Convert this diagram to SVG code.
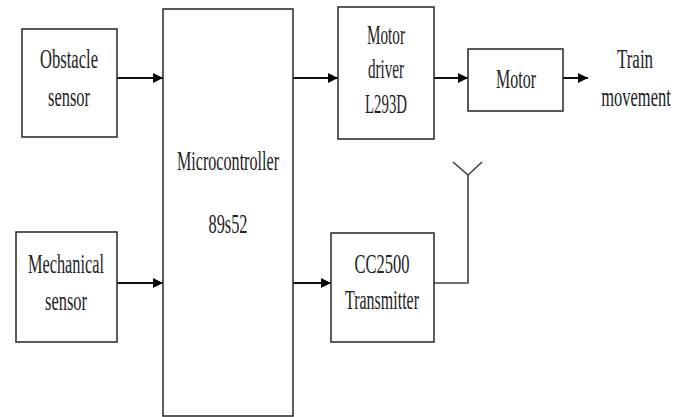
<svg xmlns="http://www.w3.org/2000/svg" width="685" height="417" viewBox="0 0 685 417">
<defs>
<marker id="arr" viewBox="0 0 10 10" refX="10" refY="5" markerWidth="10" markerHeight="10" markerUnits="userSpaceOnUse" orient="auto">
<path d="M0,0 L10,5 L0,10 Z" fill="#000"/>
</marker>
</defs>
<style>
.box{fill:#fff;stroke:#333;stroke-width:1.6}
.t{font-family:"Liberation Serif","Times New Roman",serif;font-size:27px;fill:#222;text-anchor:middle}
.c{fill:none;stroke:#111;stroke-width:2}
.ant{fill:none;stroke:#444;stroke-width:1.6}
</style>
<rect width="685" height="417" fill="#fff"/>
<g id="connectors">
<line class="c" x1="117" y1="78" x2="163" y2="78" marker-end="url(#arr)"/>
<line class="c" x1="117" y1="283" x2="163" y2="283" marker-end="url(#arr)"/>
<line class="c" x1="293" y1="78" x2="338" y2="78" marker-end="url(#arr)"/>
<line class="c" x1="293" y1="283" x2="331" y2="283" marker-end="url(#arr)"/>
<line class="c" x1="434" y1="78" x2="468" y2="78" marker-end="url(#arr)"/>
<line class="c" x1="563" y1="78" x2="588" y2="78" marker-end="url(#arr)"/>
<polyline class="ant" points="434,283 468,283 468,175"/>
<polyline class="ant" points="453,162 468,175 482,162"/>
</g>
<g id="obstacle">
<rect class="box" x="22" y="29" width="95" height="108"/>
<text class="t" x="69" y="68" textLength="58" lengthAdjust="spacingAndGlyphs">Obstacle</text>
<text class="t" x="69" y="106" textLength="42" lengthAdjust="spacingAndGlyphs">sensor</text>
</g>
<g id="mechanical">
<rect class="box" x="16" y="232" width="101" height="110"/>
<text class="t" x="66" y="273" textLength="76" lengthAdjust="spacingAndGlyphs">Mechanical</text>
<text class="t" x="66" y="310" textLength="42" lengthAdjust="spacingAndGlyphs">sensor</text>
</g>
<g id="micro">
<rect class="box" x="163" y="9" width="130" height="407"/>
<text class="t" x="228" y="170" textLength="102" lengthAdjust="spacingAndGlyphs">Microcontroller</text>
<text class="t" x="228" y="233" textLength="39" lengthAdjust="spacingAndGlyphs">89s52</text>
</g>
<g id="driver">
<rect class="box" x="338" y="7" width="96" height="132"/>
<text class="t" x="386" y="44" textLength="38" lengthAdjust="spacingAndGlyphs">Motor</text>
<text class="t" x="386" y="78" textLength="36" lengthAdjust="spacingAndGlyphs">driver</text>
<text class="t" x="386" y="113" textLength="42" lengthAdjust="spacingAndGlyphs">L293D</text>
</g>
<g id="motor">
<rect class="box" x="468" y="49" width="95" height="62"/>
<text class="t" x="516" y="88" textLength="40" lengthAdjust="spacingAndGlyphs">Motor</text>
</g>
<g id="train">
<text class="t" transform="translate(635,68) scale(0.63,1)" x="0" y="0">Train</text>
<text class="t" transform="translate(636,106) scale(0.61,1)" x="0" y="0">movement</text>
</g>
<g id="cc2500">
<rect class="box" x="331" y="233" width="103" height="109"/>
<text class="t" x="382" y="273" textLength="55" lengthAdjust="spacingAndGlyphs">CC2500</text>
<text class="t" x="382" y="309" textLength="74" lengthAdjust="spacingAndGlyphs">Transmitter</text>
</g>
</svg>
